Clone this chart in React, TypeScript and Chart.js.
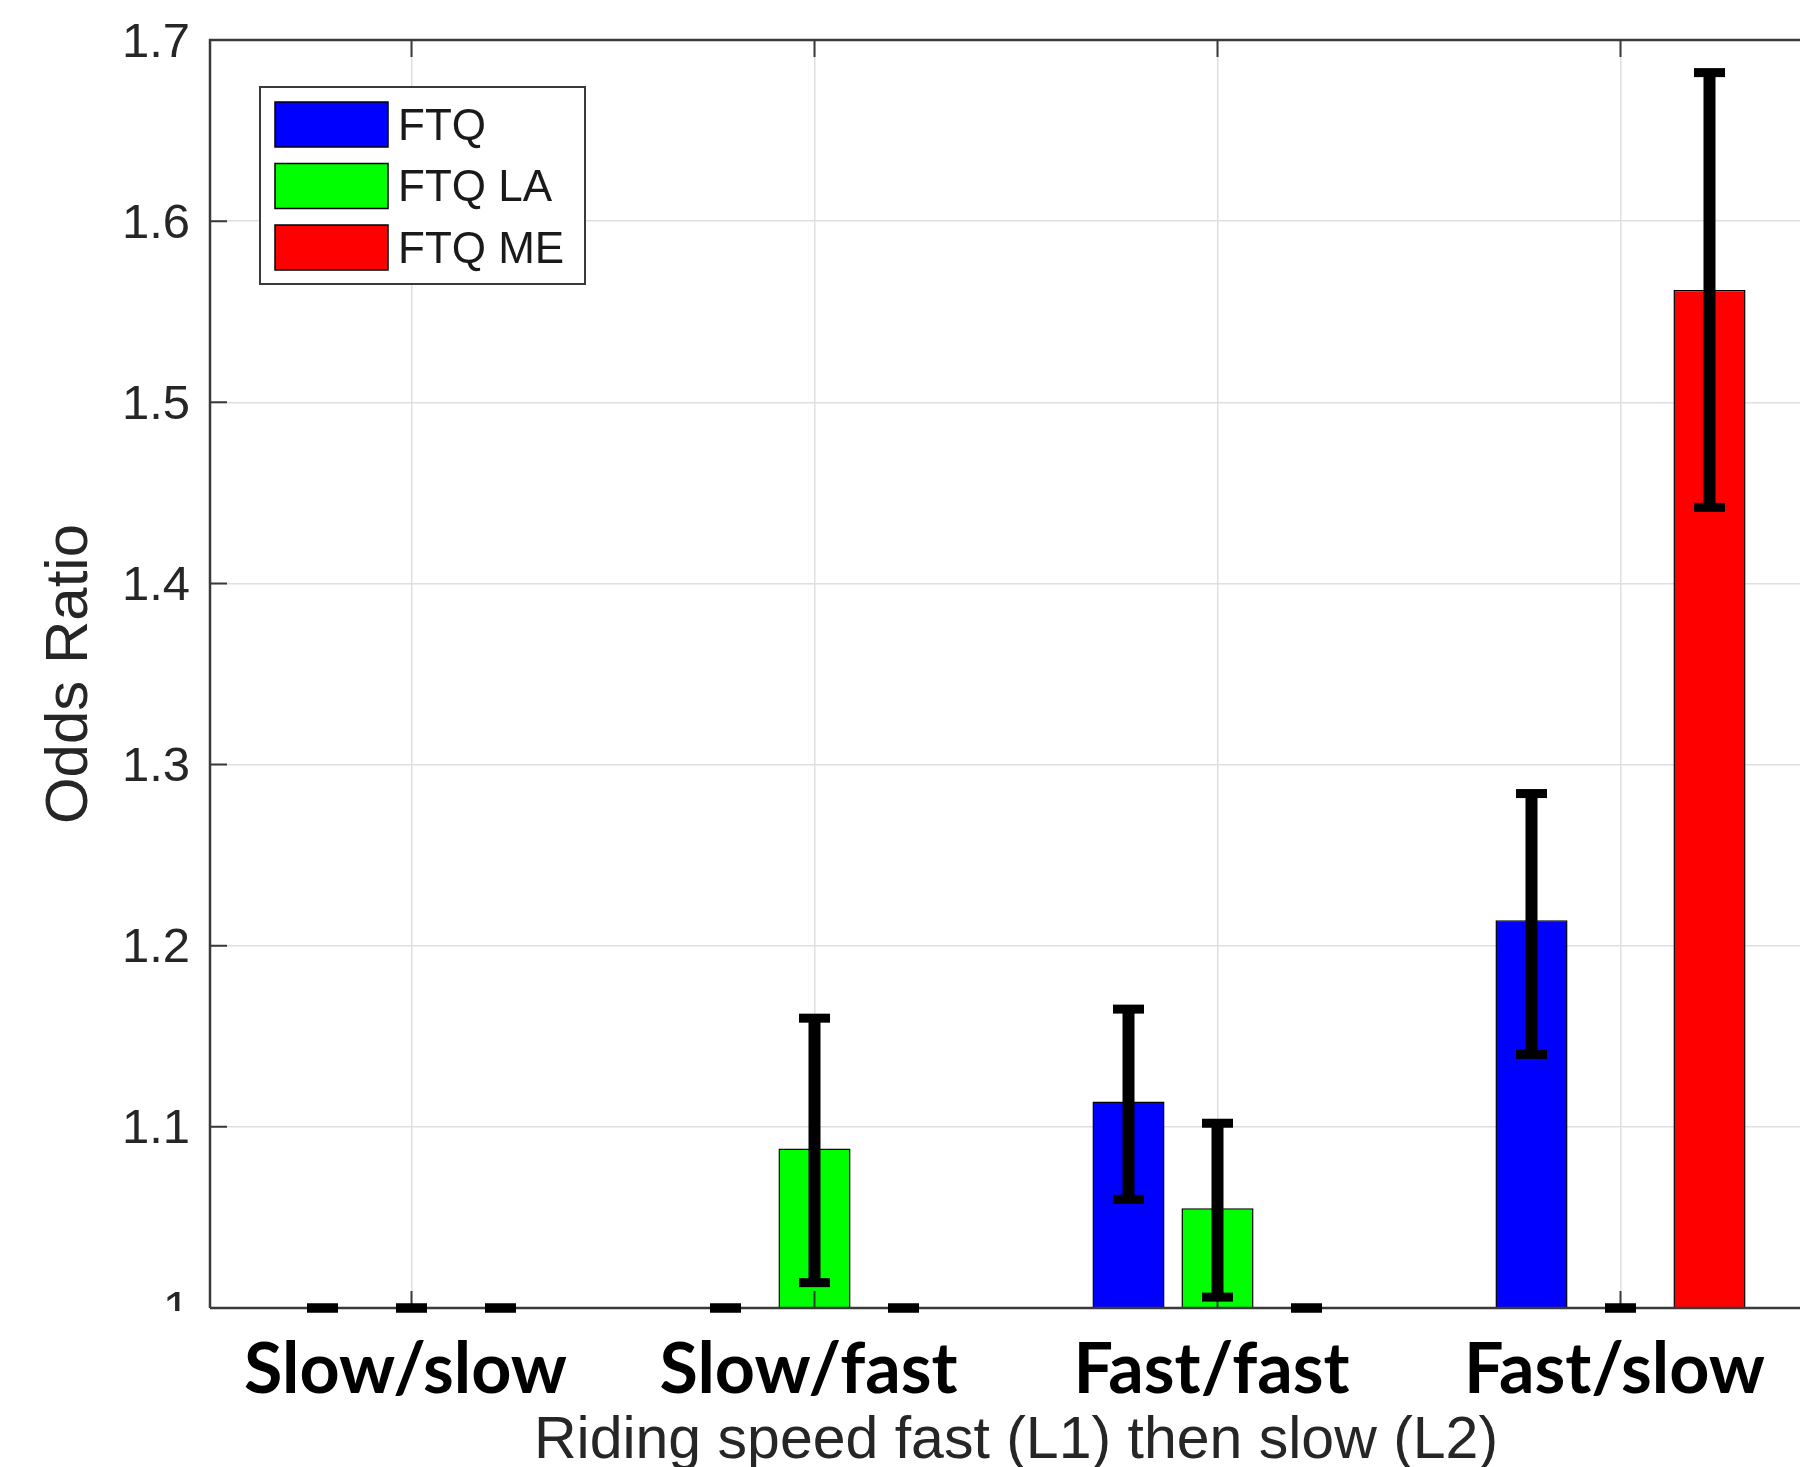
import React, { useEffect, useRef } from 'react';
import { Chart, registerables } from 'chart.js';

Chart.register(...registerables);

// ---- data ----
const categories = ['Slow/slow', 'Slow/fast', 'Fast/fast', 'Fast/slow'];
const seriesNames = ['FTQ', 'FTQ LA', 'FTQ ME'];
const seriesColors = ['#0000ff', '#00ff00', '#ff0000'];

const ftqValues = [1, 1, 1.114, 1.214];
const ftqLower = [1, 1, 1.06, 1.14];
const ftqUpper = [1, 1, 1.165, 1.284];

const ftqLaValues = [1, 1.088, 1.055, 1];
const ftqLaLower = [1, 1.014, 1.006, 1];
const ftqLaUpper = [1, 1.16, 1.102, 1];

const ftqMeValues = [1, 1, 1, 1.562];
const ftqMeLower = [1, 1, 1, 1.442];
const ftqMeUpper = [1, 1, 1, 1.682];

const yMin = 1;
const yMax = 1.7;
const yStep = 0.1;
const yTickLabels = ['1', '1.1', '1.2', '1.3', '1.4', '1.5', '1.6', '1.7'];

const yAxisTitle = 'Odds Ratio';
const xAxisTitle = 'Riding speed fast (L1) then slow (L2)';

const AXIS_COLOR = '#262626';
const FRAME_COLOR = '#3a3a3a';
const GRID_COLOR = '#dfdfdf';
const SANS = "'Liberation Sans', Arial, Helvetica, sans-serif";

// ---- plugins ----
const framePlugin = {
  id: 'matlabFrame',
  afterDatasetsDraw(chart: any) {
    const ctx = chart.ctx;
    const { left, right, top, bottom } = chart.chartArea;
    const xs = chart.scales.x;
    const ys = chart.scales.y;
    ctx.save();
    ctx.strokeStyle = FRAME_COLOR;
    ctx.lineWidth = 2.5;
    ctx.beginPath();
    ctx.moveTo(left, bottom);
    ctx.lineTo(left, top);
    ctx.lineTo(right, top);
    ctx.lineTo(right, bottom);
    ctx.lineTo(left, bottom);
    ctx.stroke();
    // inward ticks
    const tl = 17;
    ctx.lineWidth = 2;
    ctx.beginPath();
    xs.ticks.forEach((_: any, i: number) => {
      const px = xs.getPixelForTick(i);
      ctx.moveTo(px, top);
      ctx.lineTo(px, top + tl);
      ctx.moveTo(px, bottom);
      ctx.lineTo(px, bottom - tl);
    });
    ys.ticks.forEach((_: any, i: number) => {
      const py = ys.getPixelForTick(i);
      ctx.moveTo(left, py);
      ctx.lineTo(left + tl, py);
      ctx.moveTo(right, py);
      ctx.lineTo(right - tl, py);
    });
    ctx.stroke();
    ctx.restore();
  },
};

const errorBarPlugin = {
  id: 'errorBars',
  afterDatasetsDraw(chart: any) {
    const ctx = chart.ctx;
    const ys = chart.scales.y;
    ctx.save();
    ctx.fillStyle = '#000';
    chart.data.datasets.forEach((ds: any, i: number) => {
      const meta = chart.getDatasetMeta(i);
      meta.data.forEach((bar: any, j: number) => {
        const lo = ys.getPixelForValue(ds.errorLower[j]);
        const hi = ys.getPixelForValue(ds.errorUpper[j]);
        const x = bar.x;
        const lw = 12;
        const cw = 31;
        const ch = 9;
        if (lo - hi > 0) ctx.fillRect(x - lw / 2, hi, lw, lo - hi);
        ctx.fillRect(x - cw / 2, hi - ch / 2, cw, ch);
        ctx.fillRect(x - cw / 2, lo - ch / 2, cw, ch);
      });
    });
    ctx.restore();
  },
};

const legendPlugin = {
  id: 'boxLegend',
  afterDraw(chart: any) {
    const ctx = chart.ctx;
    const { left, top, bottom } = chart.chartArea;
    ctx.save();
    // mask the lower part of the bottom y tick label like the reference
    ctx.fillStyle = '#ffffff';
    ctx.fillRect(0, bottom + 3, left - 8, 40);

    const bx = left + 50;
    const by = top + 47;
    const bw = 325;
    const bh = 197;
    ctx.fillStyle = '#ffffff';
    ctx.fillRect(bx, by, bw, bh);
    ctx.strokeStyle = FRAME_COLOR;
    ctx.lineWidth = 2;
    ctx.strokeRect(bx, by, bw, bh);
    ctx.font = `44px ${SANS}`;
    ctx.textBaseline = 'middle';
    ctx.textAlign = 'left';
    chart.data.datasets.forEach((ds: any, i: number) => {
      const py = by + 15 + i * 61.5;
      ctx.fillStyle = ds.backgroundColor;
      ctx.fillRect(bx + 15, py, 113, 45);
      ctx.strokeStyle = '#000';
      ctx.lineWidth = 1.5;
      ctx.strokeRect(bx + 15, py, 113, 45);
      ctx.fillStyle = '#1a1a1a';
      ctx.fillText(ds.label, bx + 138, py + 25.5);
    });
    ctx.restore();
  },
};

function buildConfig(): any {
  const values = [ftqValues, ftqLaValues, ftqMeValues];
  const lowers = [ftqLower, ftqLaLower, ftqMeLower];
  const uppers = [ftqUpper, ftqLaUpper, ftqMeUpper];
  return {
    type: 'bar',
    data: {
      labels: categories,
      datasets: seriesNames.map((name, i) => ({
        label: name,
        data: values[i],
        errorLower: lowers[i],
        errorUpper: uppers[i],
        backgroundColor: seriesColors[i],
        borderColor: '#000000',
        borderWidth: 1.5,
        categoryPercentage: 0.6625,
        barPercentage: 0.81,
      })),
    },
    options: {
      animation: false,
      responsive: false,
      devicePixelRatio: 1,
      layout: { padding: { top: 40, right: 8, left: 0, bottom: 0 } },
      plugins: {
        legend: { display: false },
        tooltip: { enabled: false },
      },
      scales: {
        x: {
          type: 'category',
          offset: true,
          afterFit: (s: any) => {
            s.height = 159;
            s.paddingLeft = 0;
            s.paddingRight = 0;
          },
          grid: {
            offset: false,
            color: GRID_COLOR,
            lineWidth: 1.5,
            drawTicks: false,
          },
          border: { display: false },
          ticks: {
            color: '#000000',
            padding: 27,
            labelOffset: -6,
            maxRotation: 0,
            autoSkip: false,
            font: { family: "Lato, 'Open Sans', sans-serif", weight: 'bold', size: 70, lineHeight: 1 },
          },
          title: {
            display: true,
            text: xAxisTitle,
            color: AXIS_COLOR,
            font: { family: SANS, size: 59, lineHeight: 1 },
            padding: { top: 0, bottom: -4 },
          },
        },
        y: {
          type: 'linear',
          min: yMin,
          max: yMax,
          afterFit: (s: any) => {
            s.width = 210;
            s.paddingTop = 0;
            s.paddingBottom = 0;
          },
          grid: {
            color: GRID_COLOR,
            lineWidth: 1.5,
            drawTicks: false,
          },
          border: { display: false },
          ticks: {
            stepSize: yStep,
            color: AXIS_COLOR,
            padding: 20,
            labelOffset: 3,
            font: { family: SANS, size: 49, lineHeight: 1 },
            callback: (_v: any, i: number) => yTickLabels[i],
          },
          title: {
            display: true,
            text: yAxisTitle,
            color: AXIS_COLOR,
            font: { family: SANS, size: 60, lineHeight: 1 },
            padding: { top: 40, bottom: 0 },
          },
        },
      },
    },
    plugins: [framePlugin, errorBarPlugin, legendPlugin],
  };
}

export default function App() {
  const ref = useRef<HTMLCanvasElement>(null);
  useEffect(() => {
    let chart: Chart | null = null;
    let cancelled = false;
    const build = () => {
      if (cancelled || !ref.current) return;
      chart = new Chart(ref.current, buildConfig());
    };
    const fontsApi: any = (document as any).fonts;
    if (fontsApi && fontsApi.load) {
      Promise.all([
        fontsApi.load('bold 70px Lato'),
        fontsApi.load(`49px 'Liberation Sans'`),
      ]).then(build, build);
    } else {
      build();
    }
    return () => {
      cancelled = true;
      if (chart) chart.destroy();
    };
  }, []);
  return (
    <div
      style={{
        position: 'absolute',
        left: 0,
        top: 0,
        width: 1800,
        height: 1467,
        overflow: 'hidden',
        background: '#ffffff',
      }}
    >
      <canvas ref={ref} width={1830} height={1467} style={{ display: 'block' }} />
    </div>
  );
}
